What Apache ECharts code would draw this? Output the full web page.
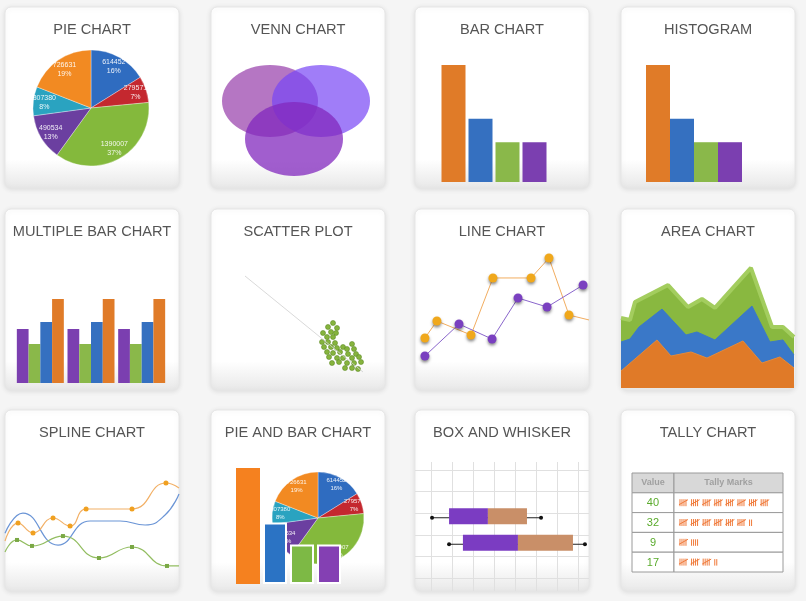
<!DOCTYPE html>
<html><head><meta charset="utf-8">
<script src="https://cdn.jsdelivr.net/npm/echarts@6/dist/echarts.min.js"></script>
<style>html,body{margin:0;padding:0;background:#f5f5f5;}#main{width:806px;height:601px;}</style>
</head><body><div id="main"></div>
<script>
// ---------------- DATA ----------------
const titles = ['PIE CHART','VENN CHART','BAR CHART','HISTOGRAM','MULTIPLE BAR CHART','SCATTER PLOT','LINE CHART','AREA CHART','SPLINE CHART','PIE AND BAR CHART','BOX AND WHISKER','TALLY CHART'];

const pieNames = ['A','B','C','D','E','F'];
const pieValues = [614452, 279571, 1390007, 490534, 307380, 726631];

const vennX = [59, 110, 83];
const vennY = [87, 87, 49];
const vennRX = [48, 49, 49];
const vennRY = [36, 36, 37];

const barCats = ['A','B','C','D'];
const barValues = [100, 54, 34, 34];
const histValues = [100, 54, 34, 34];

const multiCats = ['G1','G2','G3'];
const multiPurple = [54, 54, 54];
const multiGreen = [39, 39, 39];
const multiBlue = [61, 61, 61];
const multiOrange = [84, 84, 84];

const scatterPts = [[122,62],[117,58],[126,57],[112,52],[120,53],[125,52],[116,48],[122,48],[111,43],[117,43],[124,42],[113,38],[120,38],[126,37],[132,38],[141,41],[136,36],[143,36],[116,33],[122,32],[129,33],[137,31],[145,31],[118,28],[126,27],[132,27],[141,27],[148,28],[121,22],[128,23],[136,22],[143,22],[150,23],[134,17],[141,17],[147,16]];
const scatterTrend = [[34,109],[152,13]];

const lineOrange = [[5.7,26.7],[12.6,40.8],[32.2,29.2],[44.8,76.7],[66.7,76.7],[77.0,93.3],[88.5,45.8],[100,41.7]];
const linePurple = [[5.7,11.7],[25.3,38.3],[44.3,25.8],[59.2,60.0],[75.9,52.5],[96.6,70.8]];

const areaOrange = [[0,12.3],[20.8,34.8],[28.9,23.2],[40.5,26.1],[49.7,21.7],[70.5,34.1],[81.5,18.1],[91.9,22.5],[100,14.5]];
const areaBlue = [[0,33.3],[5.2,35.5],[10.4,44.2],[23.7,57.2],[37.6,38.4],[43.9,40.6],[54.3,34.8],[75.7,59.4],[86.1,33.3],[93.6,34.8],[100,23.9]];
const areaGreen = [[0,50.7],[5.2,49.3],[8.1,62.3],[27.2,74.6],[38.7,58.7],[46.8,64.5],[54.3,58.0],[75.1,87.0],[87.3,44.2],[93.6,44.2],[100,37.0]];

const splineOrange = [[0,30],[7.5,43.8],[16.1,36.2],[27.6,47.7],[37.4,41.5],[46.6,54.6],[73.0,54.6],[92.5,74.6],[100,70.8]];
const splineBlue = [[0,36],[10.3,51.5],[30.5,26.9],[48.9,45.4],[66.1,45.4],[80.5,42.3],[92,50.0],[100,66.2]];
const splineGreen = [[0,21.5],[6.9,30.8],[15.5,26.2],[33.3,33.8],[54.0,16.9],[73.0,25.4],[93.1,10.8],[100,10.8]];

const pieBarValues = [100, 53, 34, 34];

const boxCats = ['S1','S2'];
const boxData = [[0.5, 8.6, 27.1, 45.7, 52.4],[8.6, 15.2, 41.4, 67.6, 73.3]];

const tallyHeader = ['Value','Tally Marks'];
const tallyValues = [40, 32, 9, 17];

// ---------------- STYLE / LAYOUT ----------------
const CARD_X = [5, 211, 415, 621], CARD_Y = [7, 209, 410], CARD_W = 174, CARD_H = 181;
const pieColors = ['#2f6cc0','#c4282f','#84b93c','#6b3fa0','#2aa3c0','#f28a22'];
const barColors = ['#e07b28','#3570c0','#8ab84a','#7b3fb0'];
const FONT = 'Liberation Sans';

const chart = echarts.init(document.getElementById('main'), null, {renderer:'canvas', width:806, height:601});
const grids = [], xAxes = [], yAxes = [], series = [];
function addGrid(rect, xa, ya){
  const i = grids.length;
  grids.push(Object.assign({show:false, containLabel:false}, rect));
  xAxes.push(Object.assign({gridIndex:i, show:false}, xa));
  yAxes.push(Object.assign({gridIndex:i, show:false}, ya));
  return i;
}

// cards
const cards = [];
CARD_Y.forEach(y => CARD_X.forEach(x => cards.push({
  type:'rect', shape:{x:x, y:y, width:CARD_W, height:CARD_H, r:6},
  style:{fill:{type:'linear',x:0,y:0,x2:0,y2:1,colorStops:[{offset:0,color:'#ffffff'},{offset:0.84,color:'#ffffff'},{offset:1,color:'#e8e8e8'}]},
         stroke:'#e6e6e6', lineWidth:1, shadowBlur:5, shadowColor:'rgba(0,0,0,0.10)', shadowOffsetY:1}
})));

const title = titles.map((t,i) => ({
  text:t, left: CARD_X[i%4] + CARD_W/2, top: CARD_Y[Math.floor(i/4)] + 15, textAlign:'center', padding:0,
  textStyle:{fontSize:14.6, fontWeight:'normal', color:'#555', fontFamily:FONT}
}));

// 1. Pie chart
function pieSeries(center, r, r0, fontSize){
  const data = pieValues.map((v,i)=>({value:v, name:pieNames[i], itemStyle:{color:pieColors[i]}}));
  return [
    {type:'pie', center:center, radius:r, startAngle:90, clockwise:true, silent:true, z:2,
     label:{show:false}, labelLine:{show:false},
     itemStyle:{borderColor:'rgba(255,255,255,0.55)', borderWidth:0.6}, data:data},
    {type:'pie', center:center, radius:[r0, r], startAngle:90, clockwise:true, silent:true, percentPrecision:0, z:3,
     label:{show:true, position:'inside', formatter:'{c}\n{d}%', fontSize:fontSize, lineHeight:fontSize+2, color:'rgba(255,255,255,0.9)', fontFamily:FONT},
     labelLine:{show:false},
     itemStyle:{color:'rgba(0,0,0,0)', borderWidth:0},
     data:pieValues.map((v,i)=>({value:v, name:pieNames[i]}))}
  ];
}
series.push(...pieSeries([91,108], 58, 30, 7));

// 2. Venn
const vennColors = ['rgba(150,60,170,0.7)','rgba(120,70,245,0.7)','rgba(130,40,190,0.75)'];
const gV = addGrid({left:211, top:8, width:173, height:180}, {type:'value', min:0, max:173}, {type:'value', min:0, max:180});
series.push({type:'custom', xAxisIndex:gV, yAxisIndex:gV, silent:true,
  renderItem:function(params, api){
    const c = api.coord([api.value(0), api.value(1)]);
    const s = api.size([api.value(2), api.value(3)]);
    return {type:'ellipse', shape:{cx:c[0], cy:c[1], rx:s[0], ry:s[1]}, style:{fill:vennColors[params.dataIndex]}};
  },
  data: vennX.map((x,i)=>[x, vennY[i], vennRX[i], vennRY[i]])});

// 3. Bar chart
const gB = addGrid({left:440, top:65, width:108, height:117}, {type:'category', data:barCats}, {type:'value', min:0, max:100});
series.push({type:'bar', xAxisIndex:gB, yAxisIndex:gB, barWidth:24, silent:true,
  data: barValues.map((v,i)=>({value:v, itemStyle:{color:barColors[i]}}))});

// 4. Histogram
const gH = addGrid({left:646, top:65, width:96, height:117}, {type:'category', data:barCats}, {type:'value', min:0, max:100});
series.push({type:'bar', xAxisIndex:gH, yAxisIndex:gH, barCategoryGap:'0%', silent:true,
  data: histValues.map((v,i)=>({value:v, itemStyle:{color:barColors[i]}}))});

// 5. Multiple bar
const gM = addGrid({left:15, top:299, width:152, height:84}, {type:'category', data:multiCats}, {type:'value', min:0, max:84});
[[multiPurple,'#7b3fb0'],[multiGreen,'#8ab84a'],[multiBlue,'#3570c0'],[multiOrange,'#e07b28']].forEach(([d,c]) => {
  series.push({type:'bar', xAxisIndex:gM, yAxisIndex:gM, barWidth:11.75, barGap:'0%', silent:true, itemStyle:{color:c}, data:d});
});

// 6. Scatter
const gS = addGrid({left:211, top:250, width:173, height:135}, {type:'value', min:0, max:173}, {type:'value', min:0, max:135});
series.push({type:'line', xAxisIndex:gS, yAxisIndex:gS, symbol:'none', silent:true, lineStyle:{color:'#cfcfcf', width:0.8}, data:scatterTrend});
series.push({type:'scatter', xAxisIndex:gS, yAxisIndex:gS, symbolSize:5, silent:true, itemStyle:{color:'#86b43e', borderColor:'#5f8c26', borderWidth:0.6, opacity:1}, data:scatterPts});

// 7. Line chart
const gL = addGrid({left:415, top:250, width:174, height:120}, {type:'value', min:0, max:100}, {type:'value', min:0, max:100});
const dotShadow = {shadowBlur:3, shadowColor:'rgba(0,0,0,0.45)', shadowOffsetY:2};
series.push({type:'line', xAxisIndex:gL, yAxisIndex:gL, symbol:'circle', symbolSize:9, silent:true,
  lineStyle:{color:'#f2ad60', width:1}, itemStyle:Object.assign({color:'#f0a81c'}, dotShadow),
  data: lineOrange.map((p,i)=> i===lineOrange.length-1 ? {value:p, symbol:'none'} : p)});
series.push({type:'line', xAxisIndex:gL, yAxisIndex:gL, symbol:'circle', symbolSize:9, silent:true,
  lineStyle:{color:'#8a66cc', width:1}, itemStyle:Object.assign({color:'#7a40c0'}, dotShadow), data: linePurple});

// 8. Area chart
const gA = addGrid({left:621, top:250, width:173, height:138}, {type:'value', min:0, max:100}, {type:'value', min:0, max:100});
[[areaGreen,'#89b840','#a3cd5e',4],[areaBlue,'#3a78c8','#3a78c8',1],[areaOrange,'#e07a28','#e58a3a',1]].forEach(([d,c,lc,lw]) => {
  series.push({type:'line', xAxisIndex:gA, yAxisIndex:gA, symbol:'none', silent:true,
    lineStyle:{color:lc, width:lw}, areaStyle:{color:c, opacity:1, origin:'start'}, data:d});
});

// 9. Spline chart
const gSp = addGrid({left:5, top:450, width:174, height:130}, {type:'value', min:0, max:100}, {type:'value', min:0, max:100});
function edgeless(arr){ return arr.map((p,i)=> (i===0 || i===arr.length-1) ? {value:p, symbol:'none'} : p); }
series.push({type:'line', xAxisIndex:gSp, yAxisIndex:gSp, smooth:0.5, showSymbol:false, symbol:'none', silent:true,
  lineStyle:{color:'#6b95d6', width:1.2}, data:splineBlue});
series.push({type:'line', xAxisIndex:gSp, yAxisIndex:gSp, smooth:0.5, symbol:'rect', symbolSize:4, silent:true,
  lineStyle:{color:'#92bd60', width:1.2}, itemStyle:{color:'#7aa845'}, data:edgeless(splineGreen)});
series.push({type:'line', xAxisIndex:gSp, yAxisIndex:gSp, smooth:0.5, symbol:'circle', symbolSize:5, silent:true,
  lineStyle:{color:'#f2b066', width:1.2}, itemStyle:{color:'#f0a020'}, data:edgeless(splineOrange)});

// 10. Pie and bar
series.push(...pieSeries([318,518], 46, 24, 6));
const gPB = addGrid({left:234.5, top:468, width:108, height:116}, {type:'category', data:barCats}, {type:'value', min:0, max:100});
series.push({type:'bar', xAxisIndex:gPB, yAxisIndex:gPB, barWidth:24, z:5, silent:true,
  itemStyle:{borderColor:'#ffffff', borderWidth:2},
  data: pieBarValues.map((v,i)=>({value:v, itemStyle:{color:['#f5811f','#2b73c4','#7db945','#8440b3'][i], borderColor:'#ffffff', borderWidth: i===0?0:2}}))});

// 11. Box and whisker
const gBh = addGrid({left:415, top:470, width:174, height:108},
  {type:'value', min:0, max:1},
  {type:'value', min:0, max:5, interval:1, show:true, axisLine:{show:false}, axisTick:{show:false}, axisLabel:{show:false}, splitLine:{show:true, lineStyle:{color:'#e0e0e0', width:1}}});
const gBv = addGrid({left:431, top:462, width:147, height:129},
  {type:'value', min:0, max:70, interval:10, show:true, axisLine:{show:false}, axisTick:{show:false}, axisLabel:{show:false}, splitLine:{show:true, lineStyle:{color:'#e0e0e0', width:1}}},
  {type:'value', min:0, max:1});
const gBx = addGrid({left:431, top:503, width:147, height:53},
  {type:'value', min:0, max:70},
  {type:'category', data:boxCats, inverse:true});
series.push({type:'custom', xAxisIndex:gBx, yAxisIndex:gBx, silent:true, clip:false,
  renderItem:function(params, api){
    const cat = api.value(0);
    const p = [1,2,3,4,5].map(k => api.coord([api.value(k), cat]));
    const h = api.size([0,1])[1] * 0.6;
    const y = p[0][1];
    return {type:'group', children:[
      {type:'line', shape:{x1:p[0][0], y1:y+1.5, x2:p[4][0], y2:y+1.5}, style:{stroke:'#222', lineWidth:1.2}},
      {type:'rect', shape:{x:p[1][0], y:y-h/2, width:p[2][0]-p[1][0], height:h}, style:{fill:'#7b3cc2'}},
      {type:'rect', shape:{x:p[2][0], y:y-h/2, width:p[3][0]-p[2][0], height:h}, style:{fill:'#c98f68'}},
      {type:'circle', shape:{cx:p[0][0], cy:y+1.5, r:2}, style:{fill:'#111'}},
      {type:'circle', shape:{cx:p[4][0], cy:y+1.5, r:2}, style:{fill:'#111'}}
    ]};
  },
  data: boxData.map((b,i)=>[i].concat(b))});

// 12. Tally chart
const TALLY_SPLIT = 0.278;
const gT = addGrid({left:632, top:473, width:151, height:99}, {type:'value', min:0, max:1}, {type:'value', min:0, max:5, inverse:true});
series.push({type:'custom', xAxisIndex:gT, yAxisIndex:gT, silent:true, clip:false,
  renderItem:function(params, api){
    const r = api.value(0), v = api.value(1);
    const p0 = api.coord([0, r]), p1 = api.coord([1, r+1]), ps = api.coord([TALLY_SPLIT, r]);
    const x0 = p0[0], y0 = p0[1], x1 = p1[0], y1 = p1[1], xs = ps[0], ym = (y0+y1)/2;
    const header = r === 0;
    const fill = header ? '#d8d8d8' : '#ffffff';
    const ch = [
      {type:'rect', shape:{x:x0, y:y0, width:xs-x0, height:y1-y0}, style:{fill:fill, stroke:'#9a9a9a', lineWidth:1}},
      {type:'rect', shape:{x:xs, y:y0, width:x1-xs, height:y1-y0}, style:{fill:fill, stroke:'#9a9a9a', lineWidth:1}}
    ];
    if (header) {
      ch.push({type:'text', style:{text:tallyHeader[0], x:(x0+xs)/2, y:ym, align:'center', verticalAlign:'middle', fill:'#a0a0a0', fontSize:9, fontWeight:'bold', fontFamily:FONT}});
      ch.push({type:'text', style:{text:tallyHeader[1], x:(xs+x1)/2, y:ym, align:'center', verticalAlign:'middle', fill:'#a0a0a0', fontSize:9, fontWeight:'bold', fontFamily:FONT}});
    } else {
      ch.push({type:'text', style:{text:String(v), x:(x0+xs)/2, y:ym+0.5, align:'center', verticalAlign:'middle', fill:'#5aab2c', fontSize:11, fontFamily:FONT}});
      const groups = Math.floor(v/5), rem = v % 5;
      let x = xs + 6;
      const st = {stroke:'#f07a3a', lineWidth:1};
      for (let g = 0; g < groups; g++) {
        for (let k = 0; k < 4; k++) ch.push({type:'line', shape:{x1:x+k*2, y1:ym-3.5, x2:x+k*2, y2:ym+3.5}, style:st});
        ch.push({type:'line', shape:{x1:x-1, y1:ym+2, x2:x+8, y2:ym-3}, style:st});
        x += 11.6;
      }
      for (let k = 0; k < rem; k++) ch.push({type:'line', shape:{x1:x+k*2, y1:ym-3, x2:x+k*2, y2:ym+3.5}, style:st});
    }
    return {type:'group', children:ch};
  },
  data: [[0, 0]].concat(tallyValues.map((v,i)=>[i+1, v]))});

chart.setOption({
  backgroundColor:'#f5f5f5',
  animation:false,
  title:title,
  graphic:{z:0, elements:cards},
  grid:grids, xAxis:xAxes, yAxis:yAxes,
  series:series
});
</script>
</body></html>
